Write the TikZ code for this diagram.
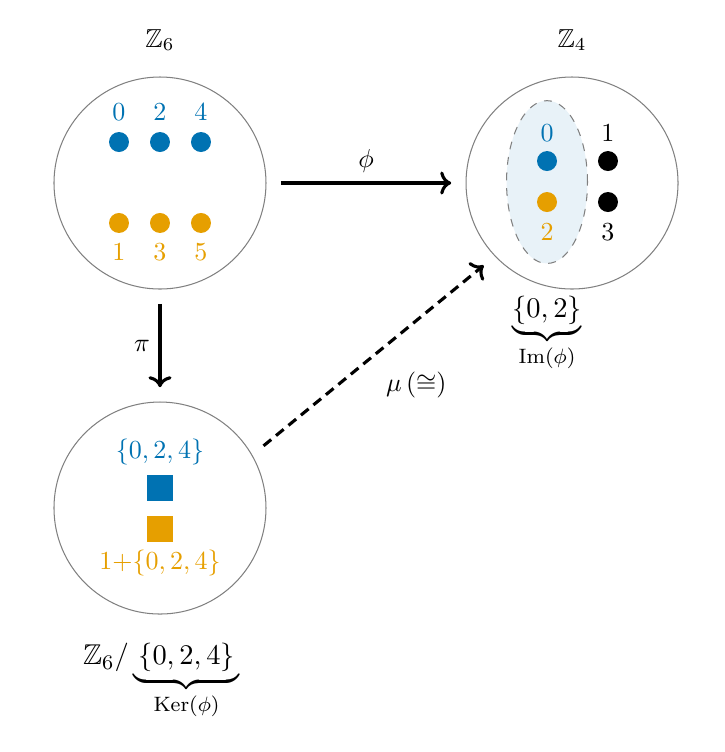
\documentclass[tikz,border=0pt]{standalone}
\usepackage{amsmath,amssymb}
\usepackage{xcolor}
\usepackage{tikz}
\usetikzlibrary{arrows.meta,calc,positioning}
\definecolor{evenblue}{RGB}{0,114,178}
\definecolor{oddorange}{RGB}{230,159,0}
\colorlet{setgray}{gray}
\colorlet{imfill}{evenblue!9}

\begin{document}
\begin{tikzpicture}[
  setcircle/.style={circle,draw=setgray,thin,minimum size=2.865cm,outer sep=0.2cm},
  elem/.style={circle,fill,minimum size=0.27cm,inner sep=0pt},
  coset/.style={rectangle,fill,minimum size=0.35cm,inner sep=0pt},
  bracetext/.style={anchor=base,font=\fontsize{11}{13}\selectfont},
  maparrow/.style={->,very thick}]
\useasboundingbox (0,0) rectangle (9.797,-10.162);
% the three sets
\node[setcircle] (z6) at (2.162,-2.473) {};
\node[setcircle] (z4) at (7.730,-2.473) {};
\node[setcircle] (quot) at (2.162,-6.865) {};
\node (z6name) at (2.162,-0.541) {$\mathbb{Z}_6$};
\node (z4name) at (7.730,-0.541) {$\mathbb{Z}_4$};
% Z6: even elements on top, odd ones below
\begin{scope}[shift={(z6)}]
  \node[elem,evenblue] (e0) at (-0.554,0.554) {}; \node[evenblue] (l0) at (-0.554,0.959) {$0$};
  \node[elem,evenblue] (e2) at (0,0.554) {};      \node[evenblue] (l2) at (0,0.959) {$2$};
  \node[elem,evenblue] (e4) at (0.554,0.554) {};  \node[evenblue] (l4) at (0.554,0.959) {$4$};
  \node[elem,oddorange] (e1) at (-0.554,-0.54) {}; \node[oddorange] (l1) at (-0.554,-0.932) {$1$};
  \node[elem,oddorange] (e3) at (0,-0.54) {};      \node[oddorange] (l3) at (0,-0.932) {$3$};
  \node[elem,oddorange] (e5) at (0.554,-0.54) {};  \node[oddorange] (l5) at (0.554,-0.932) {$5$};
\end{scope}
% Z4 with the image of phi shaded
\begin{scope}[shift={(z4)}]
  \draw[dashed,setgray,fill=imfill] (-0.338,0.013) ellipse (0.547 and 1.10);
  \node[elem,evenblue] (f0) at (-0.338,0.297) {};   \node[evenblue] (m0) at (-0.338,0.676) {$0$};
  \node[elem,oddorange] (f2) at (-0.338,-0.257) {}; \node[oddorange] (m2) at (-0.338,-0.662) {$2$};
  \node[elem] (f1) at (0.486,0.297) {};             \node (m1) at (0.486,0.676) {$1$};
  \node[elem] (f3) at (0.486,-0.257) {};            \node (m3) at (0.486,-0.662) {$3$};
\end{scope}
\node[bracetext] (imlab) at (7.392,-4.284) {$\underbrace{\{0,2\}}_{\mathrm{Im}(\phi)}$};
% quotient: two cosets
\begin{scope}[shift={(quot)}]
  \node[evenblue] (k0) at (0,0.757) {$\{0,2,4\}$};
  \node[coset,evenblue] (c0) at (0,0.27) {};
  \node[coset,oddorange] (c1) at (0,-0.284) {};
  \node[oddorange] (k1) at (0,-0.743) {$1{+}\{0,2,4\}$};
\end{scope}
\node[bracetext] (kerlab) at (2.18,-8.986) {$\mathbb{Z}_6/\underbrace{\,\{0,2,4\}\,}_{\mathrm{Ker}(\phi)}$};
% maps
\draw[maparrow] (z6) -- (z4) node[midway,above] (philab) {$\phi$};
\draw[maparrow] (z6) -- (quot) node[midway,left] (pilab) {$\pi$};
\draw[maparrow,dash pattern=on 3.8pt off 2.4pt] (quot.31) -- (z4.223)
  node[midway,anchor=north west,xshift=0.03cm,yshift=-0.08cm] (mulab) {$\mu\,(\cong)$};
\end{tikzpicture}
\end{document}
